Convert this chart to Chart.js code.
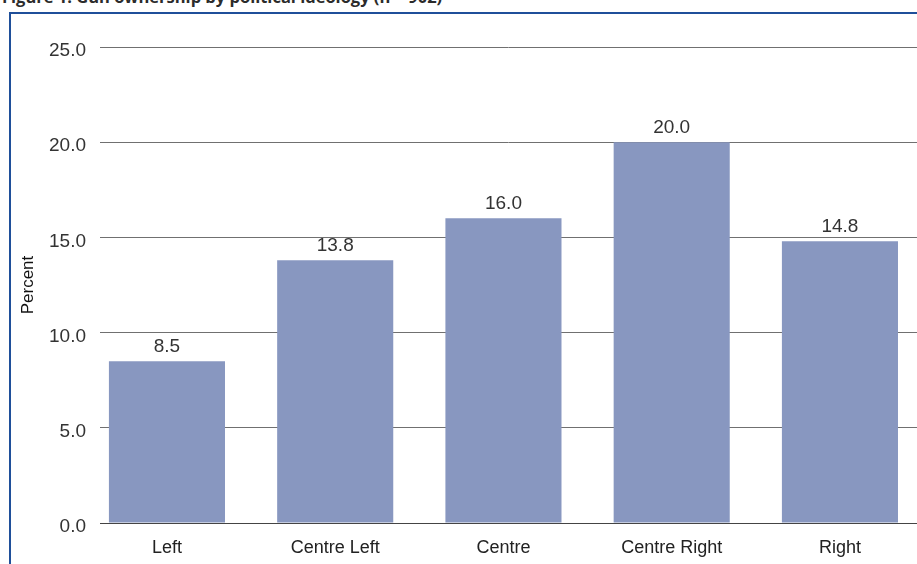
<!DOCTYPE html>
<html>
<head>
<meta charset="utf-8">
<script src="https://cdn.jsdelivr.net/npm/chart.js@4/dist/chart.umd.min.js"></script>
<style>
  html, body { margin: 0; padding: 0; background: #fff; }
  #wrap { position: relative; width: 917px; height: 564px; overflow: hidden; }
  #frame {
    position: absolute; left: 9px; top: 12px; right: 0; bottom: 0;
    border-left: 2px solid #1f4f9a; border-top: 2px solid #1f4f9a;
  }
  #title {
    position: absolute; left: 2px; top: -12px; white-space: nowrap;
    font: bold 16.5px "Open Sans", sans-serif; line-height: 18px; color: #2b2b2b;
  }
  canvas { position: absolute; left: 0; top: 0; }
</style>
</head>
<body>
<div id="wrap">
  <div id="frame"></div>
  <div id="title">Figure 1: Gun ownership by political ideology (n = 902)</div>
  <canvas id="chart" width="917" height="564"></canvas>
</div>
<script>
const categories = ["Left", "Centre Left", "Centre", "Centre Right", "Right"];
const percents = [8.5, 13.8, 16.0, 20.0, 14.8];
const yTicks = [0, 5, 10, 15, 20, 25];

const FONT = "'Liberation Sans', Arial, sans-serif";

// value labels above each bar
const barLabels = {
  id: "barLabels",
  afterDatasetsDraw(chart) {
    const { ctx } = chart;
    const meta = chart.getDatasetMeta(0);
    ctx.save();
    ctx.font = "19px " + FONT;
    ctx.fillStyle = "#333";
    ctx.textAlign = "center";
    ctx.textBaseline = "alphabetic";
    meta.data.forEach((bar, i) => {
      ctx.fillText(percents[i].toFixed(1), bar.x, bar.y - 9);
    });
    ctx.restore();
  },
};

new Chart(document.getElementById("chart"), {
  type: "bar",
  data: {
    datasets: [{
      data: percents.map((v, i) => ({ x: i, y: v })),
      backgroundColor: "#8897c0",
      borderWidth: 0,
      categoryPercentage: 1,
      barPercentage: 0.69,
    }],
  },
  options: {
    responsive: false,
    animation: false,
    layout: { padding: { top: 47, right: 0, bottom: 0, left: 0 } },
    plugins: { legend: { display: false }, tooltip: { enabled: false }, title: { display: false } },
    scales: {
      x: {
        type: "linear",
        offset: false,
        min: -0.398,
        max: 4.458,
        grid: { display: false, drawTicks: false },
        border: { display: true, color: "#444", width: 1 },
        afterBuildTicks(scale) {
          scale.ticks = categories.map((_, i) => ({ value: i }));
        },
        afterFit(scale) {
          scale.height = 41;
        },
        ticks: {
          autoSkip: false,
          maxRotation: 0,
          padding: 14,
          color: "#222",
          font: { family: FONT, size: 18 },
          callback: (v) => categories[v],
        },
      },
      y: {
        min: 0,
        max: 25,
        afterBuildTicks(scale) {
          scale.ticks = yTicks.map((v) => ({ value: v }));
        },
        afterFit(scale) {
          scale.width = 100;
        },
        grid: { color: "#707070", lineWidth: 1, drawTicks: false },
        border: { display: false },
        ticks: {
          padding: 14,
          labelOffset: 4,
          color: "#333",
          font: { family: FONT, size: 19 },
          callback: (v) => v.toFixed(1),
        },
        title: {
          display: true,
          text: "Percent",
          color: "#111",
          font: { family: FONT, size: 17 },
          padding: { top: 18, bottom: 0 },
        },
      },
    },
  },
  plugins: [barLabels],
});
</script>
</body>
</html>
